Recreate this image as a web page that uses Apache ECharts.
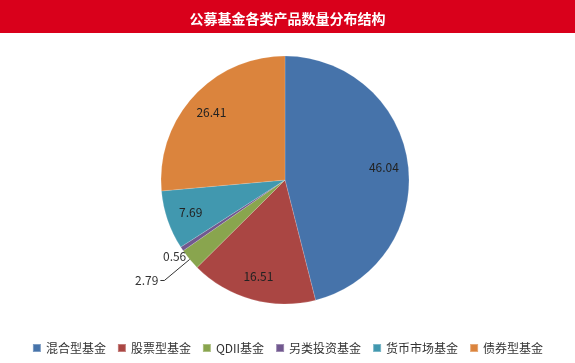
<!DOCTYPE html>
<html><head><meta charset="utf-8">
<script src="https://cdn.jsdelivr.net/npm/echarts@6/dist/echarts.min.js"></script>
<style>html,body{margin:0;padding:0;background:#fff}#c{width:575px;height:363px}</style>
</head><body><div id="c"></div>
<script>
const titleText = '公募基金各类产品数量分布结构';
const categories = ['混合型基金', '股票型基金', 'QDII基金', '另类投资基金', '货币市场基金', '债券型基金'];
const values = [46.04, 16.51, 2.79, 0.56, 7.69, 26.41];
const colors = ['#4673AA', '#AA4643', '#89A54E', '#71588F', '#4198AF', '#DB843D'];
const outsideItems = ['QDII基金', '另类投资基金'];

const font = '"Noto Sans CJK SC", "Noto Sans", sans-serif';
const chart = echarts.init(document.getElementById('c'));
const R = 124;
const center = [285, 180];

const mainData = categories.map((n, i) => {
  const out = outsideItems.includes(n);
  const d = {
    name: n, value: values[i],
    itemStyle: { color: colors[i] },
    label: { show: out }
  };
  if (n === 'QDII基金') {
    d.labelLine = { show: true, length: 33, length2: 4 };
    d.label.distanceToLabelLine = 2;
  } else if (n === '另类投资基金') {
    d.labelLine = { show: false, length: 14, length2: -18 };
    d.label.distanceToLabelLine = 2;
  } else {
    d.labelLine = { show: false };
  }
  return d;
});
const innerData = categories.map((n, i) => ({
  name: n, value: values[i],
  label: { show: !outsideItems.includes(n) }
}));

chart.setOption({
  animation: false,
  graphic: [{ type: 'rect', left: 0, top: 0, shape: { width: 575, height: 33 }, style: { fill: '#D9001B' }, silent: true }],
  title: {
    text: titleText, left: 'center', top: 7,
    textStyle: { color: '#fff', fontSize: 14, fontWeight: 'bold', fontFamily: font }
  },
  legend: {
    data: categories, bottom: 4, left: 'center',
    icon: 'rect', itemWidth: 8, itemHeight: 8, itemGap: 11,
    textStyle: { color: '#333', fontSize: 12, fontFamily: font }
  },
  series: [
    {
      type: 'pie', radius: [0, R], center: center, startAngle: 90,
      avoidLabelOverlap: false,
      label: { position: 'outside', color: '#333', fontSize: 12, fontFamily: font, formatter: '{c}' },
      labelLine: { lineStyle: { color: '#333', width: 1 } },
      itemStyle: { borderColor: 'rgba(255,255,255,0.3)', borderWidth: 0.5 },
      data: mainData
    },
    {
      type: 'pie', radius: [R * 0.56, R], center: center, startAngle: 90, silent: true,
      label: { position: 'inside', color: '#222', fontSize: 12, fontFamily: font, formatter: '{c}' },
      itemStyle: { color: 'rgba(0,0,0,0)' },
      labelLine: { show: false },
      legendHoverLink: false,
      data: innerData
    }
  ]
});
</script></body></html>
